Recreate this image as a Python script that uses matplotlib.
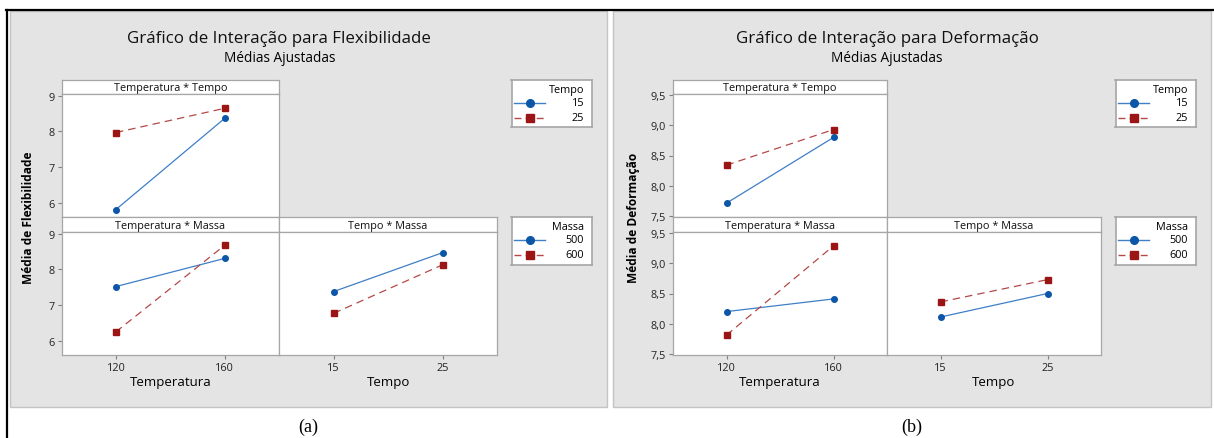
import matplotlib.pyplot as plt
from matplotlib.patches import Rectangle
from matplotlib.lines import Line2D

# factor levels
temp_levels = [120, 160]
tempo_levels = [15, 25]
massa_levels = [500, 600]

# (a) Flexibilidade - adjusted means
flex_tt_15 = [5.81, 8.37]
flex_tt_25 = [7.97, 8.65]
flex_tm_500 = [7.52, 8.31]
flex_tm_600 = [6.25, 8.68]
flex_pm_500 = [7.38, 8.47]
flex_pm_600 = [6.77, 8.13]

# (b) Deformação - adjusted means
def_tt_15 = [7.71, 8.80]
def_tt_25 = [8.34, 8.93]
def_tm_500 = [8.20, 8.41]
def_tm_600 = [7.81, 9.29]
def_pm_500 = [8.11, 8.50]
def_pm_600 = [8.36, 8.73]

flex_yticks = [6, 7, 8, 9]
flex_yticklabels = ["6", "7", "8", "9"]
def_yticks = [7.5, 8.0, 8.5, 9.0, 9.5]
def_yticklabels = ["7,5", "8,0", "8,5", "9,0", "9,5"]

plt.rcParams['font.family'] = ['Open Sans', 'DejaVu Sans']

W, H = 1214, 439
fig = plt.figure(figsize=(W / 100, H / 100), dpi=100)

BLUE_M, BLUE_L = '#0b56a8', '#3f7fc6'
RED_M, RED_L = '#9c1515', '#b54848'
GRID_EDGE = '#a6a6a6'
SMALL = 7.8


def box(x0, y0, x1, y1):
    return [x0 / W, 1 - y1 / H, (x1 - x0) / W, (y1 - y0) / H]


def fx(x):
    return x / W


def fy(y):
    return 1 - y / H


# white page, gray panels, black frame
for x0, x1 in [(10, 607), (613, 1211)]:
    fig.add_artist(Rectangle((fx(x0), fy(408)), fx(x1) - fx(x0), fy(12) - fy(408),
                             transform=fig.transFigure, facecolor='#e4e4e4',
                             edgecolor='#c4c4c4', linewidth=1.0, zorder=0))
fig.add_artist(Line2D([fx(6), fx(1213)], [fy(10.5), fy(10.5)], transform=fig.transFigure,
                      color='black', linewidth=1.6))
fig.add_artist(Line2D([fx(7), fx(7)], [fy(10.5), fy(439)], transform=fig.transFigure,
                      color='black', linewidth=1.6))


def header(x0, x1, y0, y1, text):
    ax = fig.add_axes(box(x0, y0, x1, y1))
    ax.set_xticks([])
    ax.set_yticks([])
    ax.set_facecolor('white')
    for s in ax.spines.values():
        s.set_color(GRID_EDGE)
        s.set_linewidth(0.9)
    ax.text(0.5, 0.45, text, ha='center', va='center', fontsize=SMALL,
            transform=ax.transAxes, color='#111111')


def plot_axes(x0, x1, xlim, ylim, yticks, yticklabels, show_y, xticks):
    ax = fig.add_axes(box(x0, 95, x1, 218) if xticks is None else box(x0, 233, x1, 356))
    ax.set_xlim(xlim)
    ax.set_ylim(ylim)
    for s in ax.spines.values():
        s.set_color(GRID_EDGE)
        s.set_linewidth(0.9)
    if show_y:
        ax.set_yticks(yticks)
        ax.set_yticklabels(yticklabels)
    else:
        ax.set_yticks([])
    if xticks is None:
        ax.set_xticks([])
    else:
        ax.set_xticks(xticks)
        ax.set_xticklabels([str(v) for v in xticks])
    ax.tick_params(length=3, width=0.8, color='#808080', labelsize=SMALL,
                   labelcolor='#222222', pad=2)
    return ax


def series(ax, xs, ys, kind):
    if kind == 0:
        ax.plot(xs, ys, color=BLUE_L, linewidth=0.9, linestyle='-', zorder=2)
        ax.plot(xs, ys, linestyle='none', marker='o', markersize=4,
                color=BLUE_M, zorder=3)
    else:
        ax.plot(xs, ys, color=RED_L, linewidth=0.9, linestyle=(0, (6, 4)), zorder=2)
        ax.plot(xs, ys, linestyle='none', marker='s', markersize=4,
                color=RED_M, zorder=3)


def legend(x0, x1, y0, y1, title, labels):
    ax = fig.add_axes(box(x0, y0, x1, y1))
    ax.set_xlim(x0, x1)
    ax.set_ylim(y1, y0)
    ax.set_xticks([])
    ax.set_yticks([])
    ax.set_facecolor('white')
    for s in ax.spines.values():
        s.set_color(GRID_EDGE)
        s.set_linewidth(1.2)
    ax.text(x1 - 8, y0 + 10, title, ha='right', va='center', fontsize=SMALL)
    for i, lab in enumerate(labels):
        yy = y0 + 23 + 14.5 * i
        if i == 0:
            ax.plot([x0 + 3, x0 + 34], [yy, yy], color=BLUE_L, linewidth=1.0)
            ax.plot([x0 + 18.5], [yy], marker='o', markersize=5.5, color=BLUE_M)
        else:
            ax.plot([x0 + 3, x0 + 34], [yy, yy], color=RED_L, linewidth=1.0,
                    linestyle=(0, (5, 3)))
            ax.plot([x0 + 18.5], [yy], marker='s', markersize=5.5, color=RED_M)
        ax.text(x1 - 8, yy, str(lab), ha='right', va='center', fontsize=SMALL)


def panel(gx0, gx1, lx0, lx1, ylab_x, title, ylabel, ylim, yticks, yticklabels,
          tt, tm, pm):
    mid = (gx0 + gx1) / 2
    xlim_temp = (100, 180)
    xlim_tempo = (10, 30)

    header(gx0, mid, 81, 95, 'Temperatura * Tempo')
    ax1 = plot_axes(gx0, mid, xlim_temp, ylim, yticks, yticklabels, True, None)
    series(ax1, temp_levels, tt[0], 0)
    series(ax1, temp_levels, tt[1], 1)

    header(gx0, mid, 218, 233, 'Temperatura * Massa')
    ax2 = plot_axes(gx0, mid, xlim_temp, ylim, yticks, yticklabels, True, temp_levels)
    series(ax2, temp_levels, tm[0], 0)
    series(ax2, temp_levels, tm[1], 1)

    header(mid, gx1, 218, 233, 'Tempo * Massa')
    ax3 = plot_axes(mid, gx1, xlim_tempo, ylim, yticks, yticklabels, False, tempo_levels)
    series(ax3, tempo_levels, pm[0], 0)
    series(ax3, tempo_levels, pm[1], 1)

    legend(lx0, lx1, 81, 128, 'Tempo', tempo_levels)
    legend(lx0, lx1, 218, 266, 'Massa', massa_levels)

    cx = fx(mid)
    fig.text(cx, fy(39), title, ha='center', va='center', fontsize=12.2,
             color='#111111')
    fig.text(cx, fy(58), 'Médias Ajustadas', ha='center', va='center', fontsize=9.8)
    fig.text(fx(ylab_x), fy(218), ylabel, ha='center', va='center', rotation=90,
             fontsize=8.6, fontweight='bold')
    fig.text(fx((gx0 + mid) / 2), fy(383), 'Temperatura', ha='center', va='center',
             fontsize=9.5)
    fig.text(fx((mid + gx1) / 2), fy(383), 'Tempo', ha='center', va='center',
             fontsize=9.5)


panel(61.5, 497, 511.5, 592, 29, 'Gráfico de Interação para Flexibilidade',
      'Média de Flexibilidade', (5.6, 9.05), flex_yticks, flex_yticklabels,
      (flex_tt_15, flex_tt_25), (flex_tm_500, flex_tm_600), (flex_pm_500, flex_pm_600))

panel(673, 1101, 1115.5, 1196, 634, 'Gráfico de Interação para Deformação',
      'Média de Deformação', (7.48, 9.52), def_yticks, def_yticklabels,
      (def_tt_15, def_tt_25), (def_tm_500, def_tm_600), (def_pm_500, def_pm_600))

fig.text(fx(308), fy(427), '(a)', ha='center', va='center', fontsize=13,
         family='Liberation Serif')
fig.text(fx(912), fy(427), '(b)', ha='center', va='center', fontsize=13,
         family='Liberation Serif')

fig.savefig('out.png', dpi=100)
